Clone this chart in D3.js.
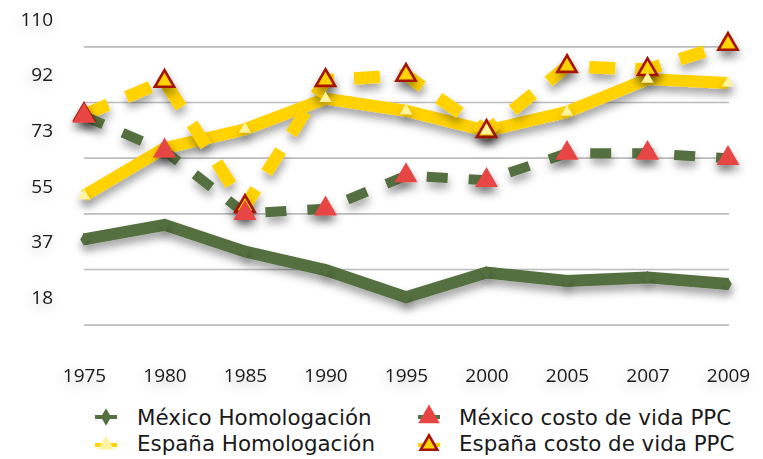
<!DOCTYPE html>
<html>
<head>
<meta charset="utf-8">
<script src="https://cdn.jsdelivr.net/npm/d3@7"></script>
<style>
  html, body { margin: 0; padding: 0; background: #fff; }
  svg { display: block; }
  text { fill: #1a1a1a; }
</style>
</head>
<body>
<svg id="chart" width="763" height="459"></svg>
<script>
// Categories (years) and the four series
const years = ["1975", "1980", "1985", "1990", "1995", "2000", "2005", "2007", "2009"];
const mexicoHomologacion = [37.4, 42.2, 33.4, 27.3, 18.4, 26.5, 23.7, 24.9, 22.7];
const mexicoCostoVida    = [78.0, 66.6, 46.0, 47.5, 58.4, 56.9, 65.8, 65.8, 64.1];
const espanaHomologacion = [51.8, 67.5, 73.7, 83.8, 79.8, 73.2, 79.4, 90.2, 88.9];
const espanaCostoVida    = [78.5, 89.5, 48.3, 89.8, 91.5, 73.0, 94.4, 93.4, 101.7];

// Value axis: 0–110 split in six equal steps
const yMax = 110;
const yStep = yMax / 6;
const yTicks = d3.range(1, 7).map(i => i * yStep);
const gridValues = yTicks.map(t => t - yStep / 2);

const seriesNames = ["México Homologación", "México costo de vida PPC", "España Homologación", "España costo de vida PPC"];

const GREEN = "#54703f";
const GOLD = "#ffd200";
const PALE = "#fff3a0";
const RED = "#e84444";
const DARKRED = "#a51200";

const series = [
  { name: seriesNames[0], values: mexicoHomologacion, color: GREEN, width: 12, dash: null,
    marker: { type: d3.symbolDiamond, size: 50, fill: GREEN, stroke: "none", sw: 0 } },
  { name: seriesNames[1], values: mexicoCostoVida, color: GREEN, width: 10, dash: "21,21",
    marker: { type: d3.symbolTriangle, size: 230, fill: RED, stroke: "none", sw: 0 } },
  { name: seriesNames[2], values: espanaHomologacion, color: GOLD, width: 12, dash: null,
    marker: { type: d3.symbolTriangle, size: 64, fill: PALE, stroke: "none", sw: 0 } },
  { name: seriesNames[3], values: espanaCostoVida, color: GOLD, width: 12.5, dash: "26,20",
    marker: { type: d3.symbolTriangle, size: 160, fill: GOLD, stroke: DARKRED, sw: 2.6 } }
];

const svg = d3.select("#chart");
svg.append("rect").attr("width", 763).attr("height", 459).attr("fill", "#fff");

const defs = svg.append("defs");
const shadow = defs.append("filter").attr("id", "shadow")
  .attr("x", "-20%").attr("y", "-40%").attr("width", "140%").attr("height", "180%");
shadow.append("feDropShadow").attr("dx", 1).attr("dy", 6).attr("stdDeviation", 4.5)
  .attr("flood-color", "#000").attr("flood-opacity", 0.36);

const textShadow = defs.append("filter").attr("id", "textShadow")
  .attr("x", "-60%").attr("y", "-80%").attr("width", "220%").attr("height", "260%");
textShadow.append("feDropShadow").attr("dx", -2).attr("dy", 4).attr("stdDeviation", 6)
  .attr("flood-color", "#000").attr("flood-opacity", 0.24);

const x = d3.scalePoint().domain(years).range([84, 728]);
const y = d3.scaleLinear().domain([0, yMax]).range([353, 19]);

// Horizontal gridlines
svg.append("g").selectAll("line").data(gridValues).join("line")
  .attr("x1", x(years[0])).attr("x2", x(years[years.length - 1]) + 1)
  .attr("y1", d => y(d)).attr("y2", d => y(d))
  .attr("stroke", "#bdbdbd").attr("stroke-width", 1.6);

// Value axis labels
const yAxis = svg.append("g").attr("transform", `translate(${x(years[0])},0)`)
  .call(d3.axisLeft(y).tickValues(yTicks).tickFormat(d3.format(".0f")).tickSize(0).tickPadding(31));
yAxis.select(".domain").remove();
yAxis.selectAll("text").style("font-size", "19px").style("fill", "#1a1a1a")
  .style("font-family", "'Open Sans', sans-serif").attr("filter", "url(#textShadow)");

// Category axis labels
const xAxis = svg.append("g").attr("transform", `translate(0,${y(0)})`)
  .call(d3.axisBottom(x).tickSize(0).tickPadding(15.5));
xAxis.select(".domain").remove();
xAxis.selectAll("text").style("font-size", "19px").style("fill", "#1a1a1a")
  .style("font-family", "'Open Sans', sans-serif").attr("filter", "url(#textShadow)");

const line = d3.line().x((d, i) => x(years[i])).y(d => y(d));

// Lines first, then markers on top
const lineOrder = [2, 3, 1, 0];
const markerOrder = [3, 2, 1, 0];

const linesG = svg.append("g");
lineOrder.forEach(k => {
  const s = series[k];
  linesG.append("path").datum(s.values)
    .attr("d", line)
    .attr("fill", "none")
    .attr("stroke", s.color)
    .attr("stroke-width", s.width)
    .attr("stroke-dasharray", s.dash)
    .attr("stroke-linejoin", "miter")
    .attr("stroke-miterlimit", 3)
    .attr("stroke-linecap", "butt")
    .attr("filter", "url(#shadow)");
});

const markersG = svg.append("g");
markerOrder.forEach(k => {
  const s = series[k];
  const m = s.marker;
  markersG.append("g").attr("filter", "url(#shadow)")
    .selectAll("path").data(s.values).join("path")
    .attr("transform", (d, i) => `translate(${x(years[i])},${y(d)})`)
    .attr("d", d3.symbol().type(m.type).size(m.size))
    .attr("fill", m.fill)
    .attr("stroke", m.stroke)
    .attr("stroke-width", m.sw)
    .attr("stroke-linejoin", "miter");
});

// Legend: two columns, two rows
const legendPos = [
  { mx: 106, tx: 137, my: 417, ty: 425 },
  { mx: 429, tx: 459, my: 417, ty: 425 },
  { mx: 106, tx: 137, my: 445, ty: 451 },
  { mx: 429, tx: 459, my: 445, ty: 451 }
];
const legendMarkerSize = [90, 200, 110, 120];
const legend = svg.append("g");
series.forEach((s, k) => {
  const p = legendPos[k];
  const g = legend.append("g");
  g.append("line")
    .attr("x1", p.mx - 11).attr("x2", p.mx + 11)
    .attr("y1", p.my).attr("y2", p.my)
    .attr("stroke", s.color).attr("stroke-width", 4);
  g.append("path")
    .attr("transform", `translate(${p.mx},${p.my})`)
    .attr("d", d3.symbol().type(s.marker.type).size(legendMarkerSize[k]))
    .attr("fill", s.marker.fill)
    .attr("stroke", s.marker.stroke)
    .attr("stroke-width", s.marker.sw);
  g.append("text")
    .attr("x", p.tx).attr("y", p.ty)
    .style("font-family", "'DejaVu Sans', sans-serif")
    .style("font-size", "21.4px")
    .style("fill", "#1a1a1a")
    .text(s.name);
});
</script>
</body>
</html>
